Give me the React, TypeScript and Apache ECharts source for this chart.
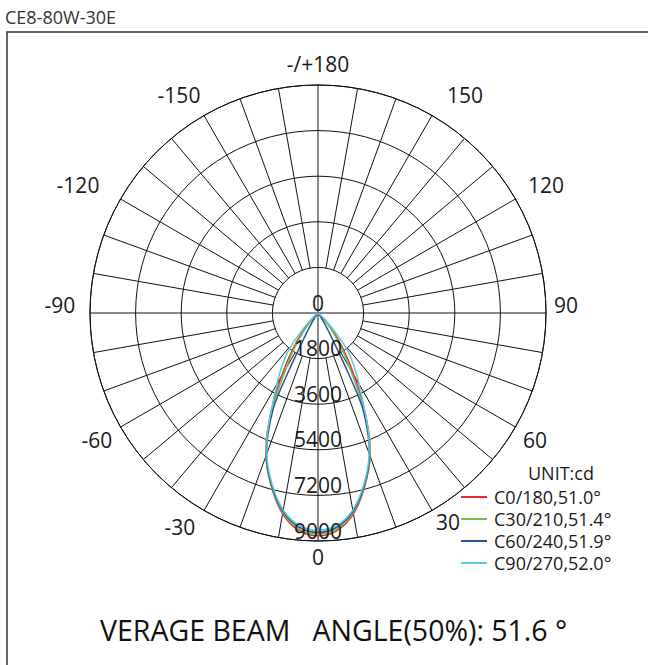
import React, { useEffect, useRef } from "react";
import * as echarts from "echarts";

const TITLE = "CE8-80W-30E";
const FOOTER = "VERAGE BEAM   ANGLE(50%): 51.6 °";
const UNIT = "UNIT:cd";

const RING_VALUES = [0, 1800, 3600, 5400, 7200, 9000];
const ANGLE_TEXT = ["0", "30", "60", "90", "120", "150", "-/+180", "-150", "-120", "-90", "-60", "-30"];
// label centres (layout only)
const ANGLE_LABEL_POS: [number, number][] = [
  [318, 557], [448, 522], [535, 440], [566, 305], [546, 185], [465, 95],
  [318, 64], [179, 95], [78, 185], [60, 305], [97, 440], [180, 527],
];

const PLANES = ["C0/180,51.0°", "C30/210,51.4°", "C60/240,51.9°", "C90/270,52.0°"];
const COLORS = ["#ee2a2a", "#72c04e", "#28529c", "#5cc9dc"];

// gamma angles (deg) at which intensities are read
const GAMMA = [0, 5, 10, 15, 20, 22.5, 25, 26, 27, 28, 29, 30, 32.5, 35, 37.5, 40, 45, 50, 60, 90];
const C0 = [8790, 8620, 8050, 7100, 6000, 5300, 4450, 4100, 3800, 3450, 3150, 2850, 2250, 1700, 1250, 850, 330, 90, 0, 0];
const C30 = [8720, 8560, 8000, 7080, 5980, 5250, 4350, 3950, 3550, 3150, 2800, 2500, 1950, 1450, 1000, 650, 200, 40, 0, 0];
const C60 = [8660, 8490, 7950, 7050, 5950, 5150, 4200, 3500, 2400, 1600, 1150, 850, 450, 200, 100, 50, 0, 0, 0, 0];
const C90 = [8580, 8420, 7900, 7000, 5900, 5250, 4450, 4150, 3900, 3650, 3400, 3250, 2800, 2400, 2000, 1500, 600, 150, 0, 0];
const PLANE_VALUES = [C0, C30, C60, C90];

const RADIAL_STEP = 10;

function planeData(vals: number[]) {
  const out: [number, number][] = [];
  for (let i = GAMMA.length - 1; i >= 1; i--) out.push([vals[i], 360 - GAMMA[i]]);
  out.push([vals[0], 0]);
  for (let i = 1; i < GAMMA.length; i++) out.push([vals[i], GAMMA[i]]);
  return out;
}

export default function App() {
  const ref = useRef<HTMLDivElement>(null);
  useEffect(() => {
    if (!ref.current) return;
    const chart = echarts.init(ref.current, null, { renderer: "svg" });
    const font = "Open Sans";
    const maxR = RING_VALUES[RING_VALUES.length - 1];
    const innerR = RING_VALUES[1];

    const radialSeries: any[] = [];
    for (let a = 0; a < 360; a += RADIAL_STEP) {
      const start = a % 90 === 0 ? 0 : innerR;
      radialSeries.push({
        type: "line",
        coordinateSystem: "polar",
        data: [[start, a], [maxR, a]],
        symbol: "none",
        silent: true,
        lineStyle: { color: "#111", width: 1 },
        z: 1,
      });
    }

    const curveSeries = PLANES.map((name, i) => ({
      name,
      type: "line",
      coordinateSystem: "polar",
      data: planeData(PLANE_VALUES[i]),
      symbol: "none",
      smooth: 0.3,
      lineStyle: { color: COLORS[i], width: 1.5 },
      itemStyle: { color: COLORS[i] },
      z: 3,
    }));

    const angleLabels = ANGLE_TEXT.map((t, i) => ({
      type: "text",
      x: ANGLE_LABEL_POS[i][0],
      y: ANGLE_LABEL_POS[i][1],
      style: {
        text: t,
        fontSize: 21,
        fill: "#1a1a1a",
        fontFamily: font,
        align: "center",
        verticalAlign: "middle",
      },
    }));

    chart.setOption({
      animation: false,
      textStyle: { fontFamily: font },
      polar: { center: [318, 313], radius: [0, 228] },
      angleAxis: {
        type: "value",
        min: 0,
        max: 360,
        interval: 30,
        startAngle: 270,
        clockwise: false,
        axisLine: { show: true, lineStyle: { color: "#111", width: 1 } },
        axisTick: { show: false },
        splitLine: { show: false },
        axisLabel: { show: false },
      },
      radiusAxis: {
        type: "value",
        min: 0,
        max: maxR,
        interval: 1800,
        axisLine: { show: false },
        axisTick: { show: false },
        axisLabel: { show: false },
        splitLine: { show: true, lineStyle: { color: "#111", width: 1 } },
      },
      legend: {
        data: PLANES,
        orient: "vertical",
        left: 461,
        top: 488,
        padding: 0,
        itemWidth: 26,
        itemHeight: 2,
        itemGap: 4,
        icon: "rect",
        textStyle: { fontSize: 18, color: "#1a1a1a", fontFamily: font, padding: [0, 0, 0, 2] },
        selectedMode: false,
      },
      graphic: [
        {
          type: "rect",
          shape: { x: 7, y: 32, width: 700, height: 700 },
          style: { fill: "none", stroke: "#333", lineWidth: 1.5 },
          z: -1,
        },
        {
          type: "text",
          x: 5,
          y: 17,
          style: { text: TITLE, fontSize: 18, fill: "#333", fontFamily: font, verticalAlign: "middle" },
        },
        {
          type: "text",
          x: 528,
          y: 473,
          style: { text: UNIT, fontSize: 18, fill: "#1a1a1a", fontFamily: font, verticalAlign: "middle" },
        },
        {
          type: "text",
          x: 100,
          y: 630,
          style: { text: FOOTER, fontSize: 28.5, fill: "#111", fontFamily: font, verticalAlign: "middle" },
        },
        ...angleLabels,
      ],
      series: [
        ...radialSeries,
        ...curveSeries,
        {
          type: "scatter",
          coordinateSystem: "polar",
          data: RING_VALUES.map((v) => [v, 0]),
          symbolSize: 0,
          silent: true,
          z: 5,
          itemStyle: { opacity: 1 },
          label: {
            show: true,
            position: "top",
            distance: 0,
            fontSize: 21,
            color: "#1a1a1a",
            fontFamily: font,
            formatter: (p: any) => String(p.value[0]),
          },
        },
      ],
    });
    return () => chart.dispose();
  }, []);
  return (
    <div
      ref={ref}
      style={{ position: "absolute", left: 0, top: 0, width: 648, height: 665, background: "#fff" }}
    />
  );
}
